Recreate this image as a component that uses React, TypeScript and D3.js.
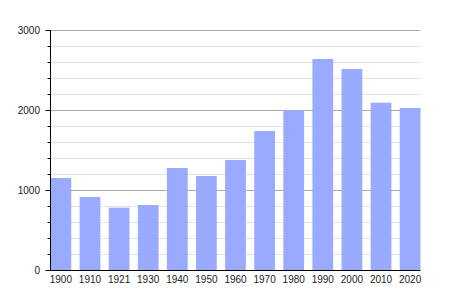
import React from "react";
import * as d3 from "d3";

const years = ["1900","1910","1921","1930","1940","1950","1960","1970","1980","1990","2000","2010","2020"];
const population = [1150, 912, 779, 812, 1275, 1175, 1375, 1737, 1995, 2637, 2512, 2091, 2025];
const yTicks = [0, 1000, 2000, 3000];

export default function App() {
  const W = 450, H = 300;
  const left = 50.5, right = 420.5, top = 30, bottom = 270;
  const x = d3.scaleBand<string>().domain(years).range([left, right]).paddingInner(0.287).paddingOuter(0);
  const y = d3.scaleLinear().domain([0, 3000]).range([bottom, top]);
  const minor = d3.range(200, 3000, 200).filter((v) => v % 1000 !== 0);
  return (
    <svg width={W} height={H} style={{ position: "absolute", left: 0, top: 0, background: "#fff" }}
      fontFamily="'Liberation Sans', Arial, sans-serif">
      {minor.map((v) => (
        <g key={"m" + v}>
          <line x1={left} x2={right} y1={Math.round(y(v)) + 0.5} y2={Math.round(y(v)) + 0.5} stroke="#e2e2e2" />
          <line x1={left - 3} x2={left} y1={Math.round(y(v)) + 0.5} y2={Math.round(y(v)) + 0.5} stroke="#000" />
        </g>
      ))}
      {yTicks.filter((v) => v > 0).map((v) => (
        <line key={"g" + v} x1={left} x2={right} y1={y(v) + 0.5} y2={y(v) + 0.5} stroke="#aaa" />
      ))}
      {years.map((yr, i) => (
        <rect key={yr} x={x(yr)} y={y(population[i])} width={x.bandwidth()} height={bottom - y(population[i])} fill="#99aaff" />
      ))}
      <line x1={left} x2={left} y1={top} y2={bottom + 0.5} stroke="#000" />
      <line x1={left} x2={right} y1={bottom + 0.5} y2={bottom + 0.5} stroke="#000" />
      {yTicks.map((v) => (
        <g key={"t" + v}>
          <line x1={left - 5} x2={left} y1={y(v) + 0.5} y2={y(v) + 0.5} stroke="#000" />
          <text x={40} y={y(v)} dy="0.35em" textAnchor="end" fontSize={10} fill="#222">{v}</text>
        </g>
      ))}
      {years.map((yr) => (
        <text key={"l" + yr} x={(x(yr) as number) + x.bandwidth() / 2} y={283} textAnchor="middle" fontSize={10} fill="#222">{yr}</text>
      ))}
    </svg>
  );
}
